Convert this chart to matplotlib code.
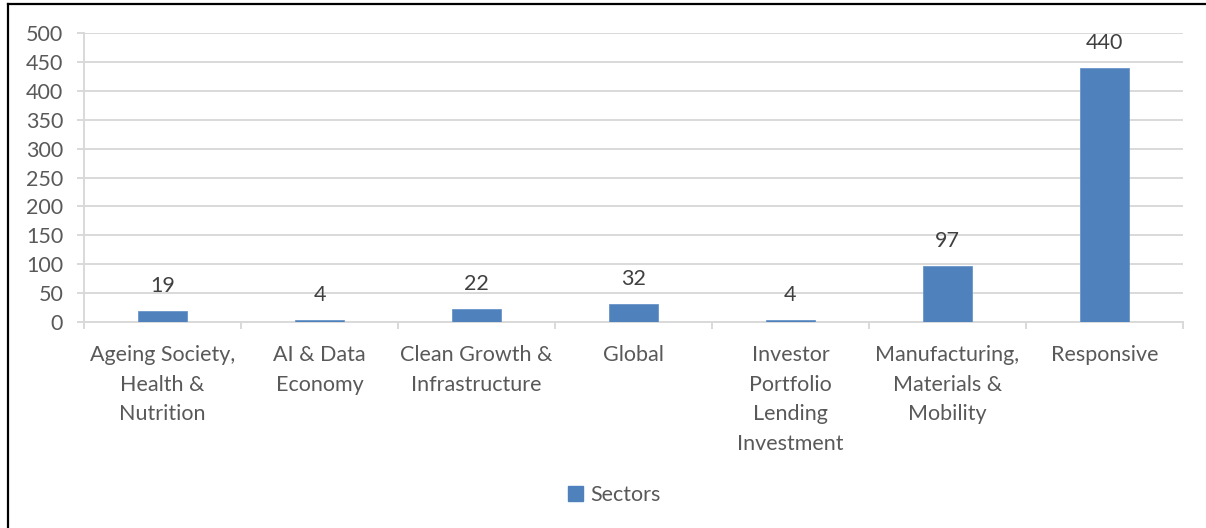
import matplotlib
matplotlib.use("Agg")
import matplotlib.pyplot as plt
from matplotlib.lines import Line2D
from matplotlib.patches import Patch

categories = ["Ageing Society,\nHealth &\nNutrition", "AI & Data\nEconomy",
              "Clean Growth &\nInfrastructure", "Global",
              "Investor\nPortfolio\nLending\nInvestment",
              "Manufacturing,\nMaterials &\nMobility", "Responsive"]
values = [19, 4, 22, 32, 4, 97, 440]
series_name = "Sectors"
yticks = [0, 50, 100, 150, 200, 250, 300, 350, 400, 450, 500]

plt.rcParams['font.family'] = ['Lato', 'DejaVu Sans']
W, H = 1206, 528
FS = 15.5
fig = plt.figure(figsize=(W / 100, H / 100), dpi=100)
ax = fig.add_axes([84 / W, (H - 322) / H, (1183 - 84) / W, (322 - 33) / H])

bar_color = "#4F81BD"
grid_color = "#D9D9D9"
x = list(range(len(values)))
bars = ax.bar(x, values, width=0.31, color=bar_color, edgecolor="#6A95C9", linewidth=0.6, zorder=3)

ax.set_xlim(-0.5, len(values) - 0.5)
ax.set_ylim(0, 500)
ax.set_yticks(yticks)
ax.set_yticklabels([str(v) for v in yticks])
ax.yaxis.grid(True, color=grid_color, linewidth=1.4, zorder=0)
ax.set_axisbelow(True)

for s in ["top", "right"]:
    ax.spines[s].set_visible(False)
ax.spines["left"].set_color(grid_color)
ax.spines["left"].set_linewidth(1.4)
ax.spines["bottom"].set_color(grid_color)
ax.spines["bottom"].set_linewidth(1.4)

ax.tick_params(axis="y", length=5, width=1.4, color=grid_color, pad=10,
               labelsize=FS, labelcolor="#595959")
# category ticks at boundaries
ax.set_xticks([i - 0.5 for i in range(len(values) + 1)], minor=False)
ax.set_xticklabels([])
ax.tick_params(axis="x", which="major", length=5, width=1.4, color=grid_color)
ax.set_xticks(x, minor=True)
ax.set_xticklabels(categories, minor=True)
ax.tick_params(axis="x", which="minor", length=0, pad=16.5, labelsize=FS, labelcolor="#595959")
for t in ax.get_xticklabels(minor=True):
    t.set_linespacing(1.6)
    t.set_verticalalignment("top")

for xi, v in zip(x, values):
    ax.annotate(str(v), (xi, v), xytext=(0, 18), textcoords="offset points",
                ha="center", va="center", fontsize=FS, color="#404040")

fig.legend(handles=[Patch(facecolor=bar_color, edgecolor=bar_color)], labels=[series_name],
           loc="center", bbox_to_anchor=(614 / W, (H - 495) / H), frameon=False,
           fontsize=FS, labelcolor="#595959", handlelength=0.7, handleheight=0.7,
           handletextpad=0.35)

# outer border (left and top)
fig.add_artist(Line2D([7.5 / W, 7.5 / W], [0, (H - 4) / H], color="black", linewidth=1.6))
fig.add_artist(Line2D([7.5 / W, 1], [(H - 4) / H, (H - 4) / H], color="black", linewidth=1.6))

fig.savefig("out.png", dpi=100)
